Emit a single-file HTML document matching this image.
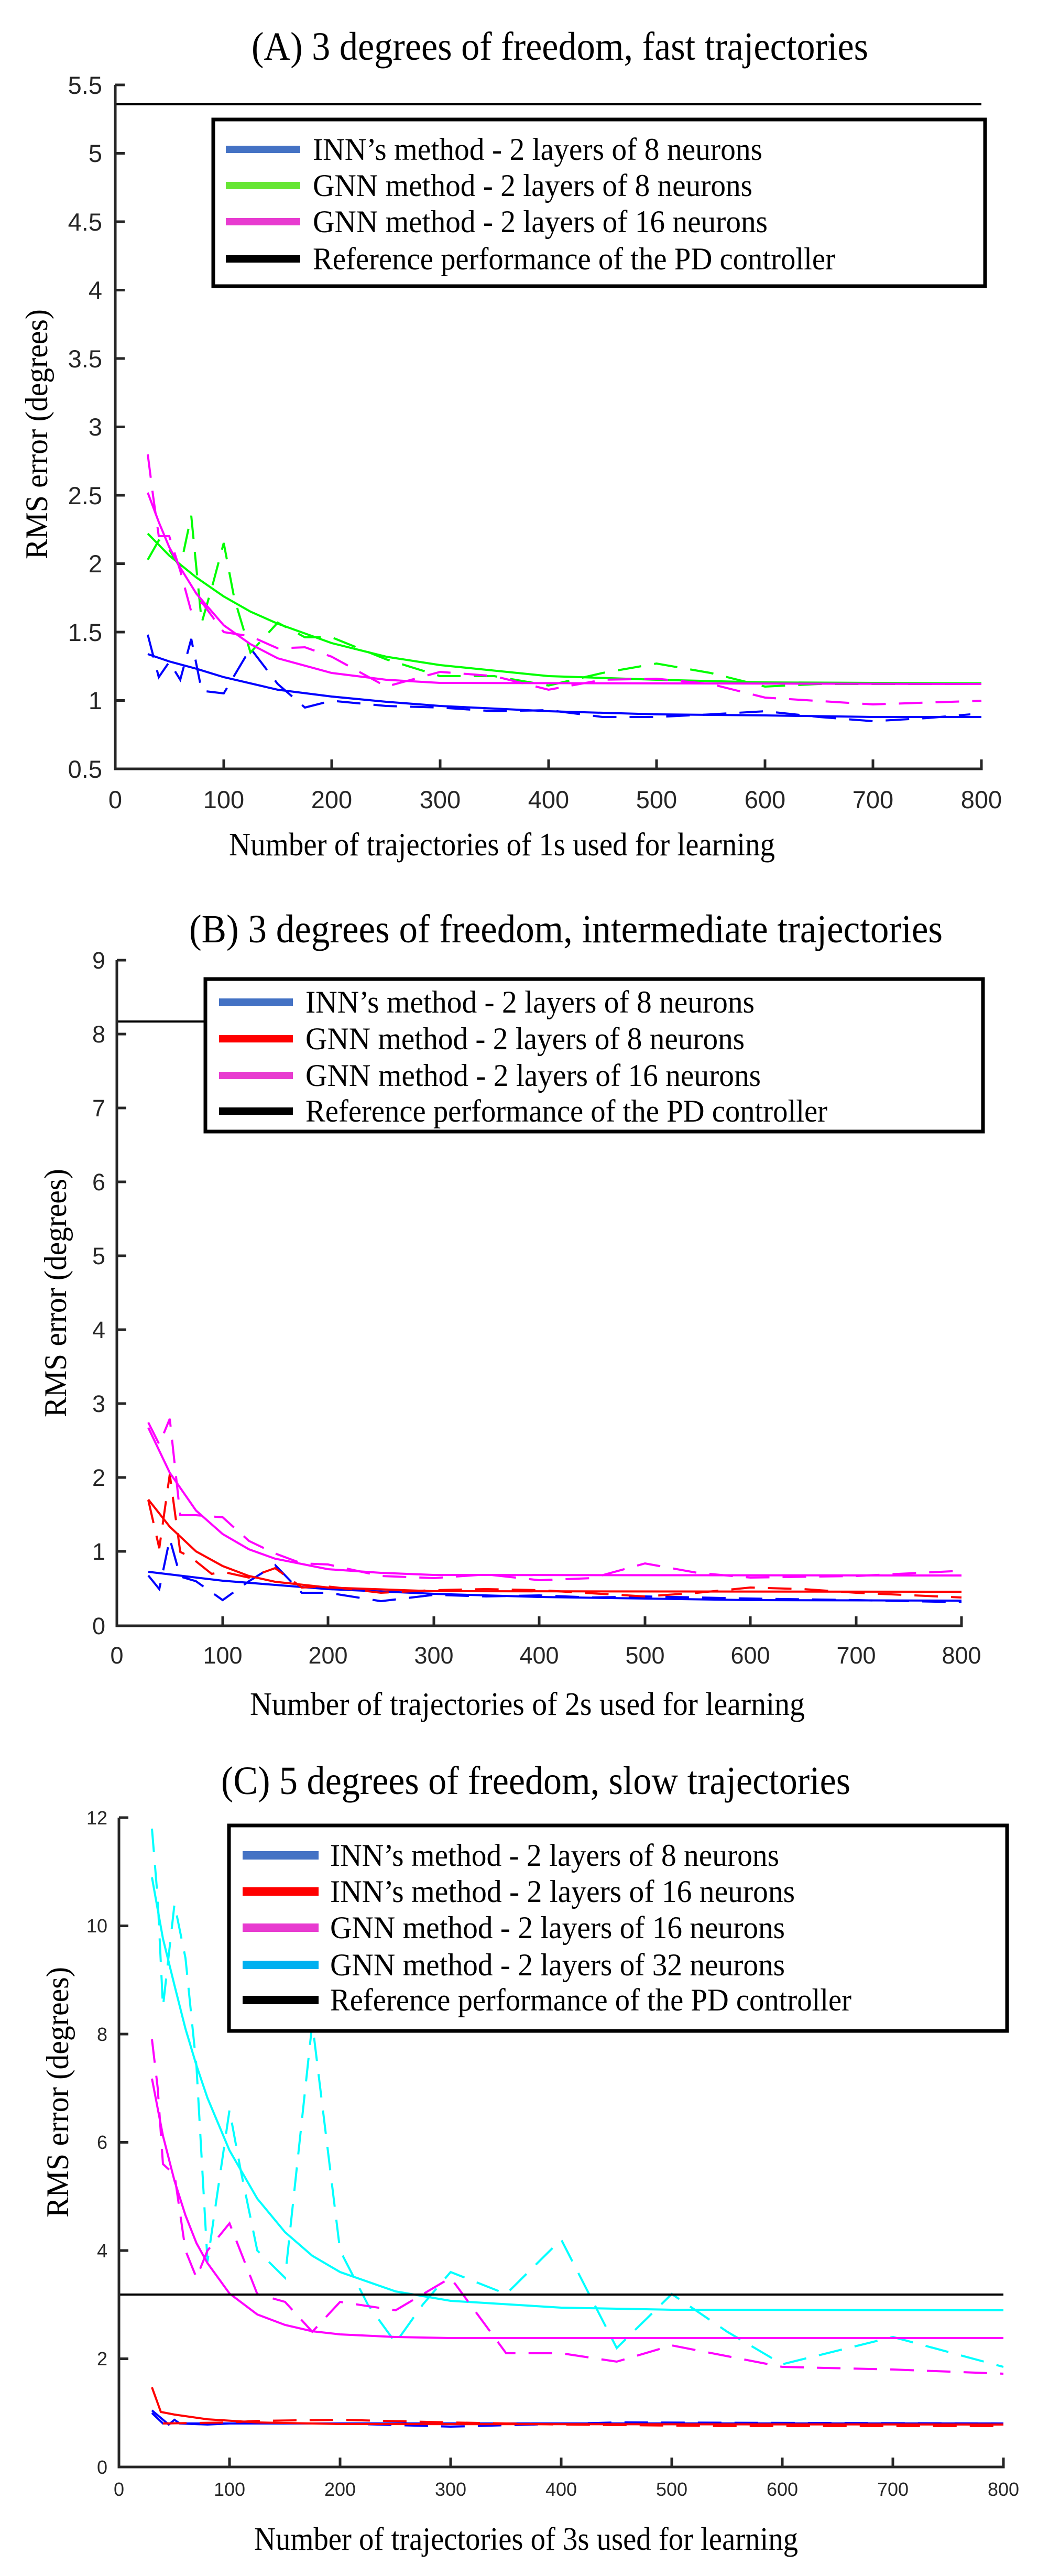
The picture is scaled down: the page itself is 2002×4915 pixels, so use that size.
<!DOCTYPE html>
<html><head><meta charset="utf-8"><style>html,body{margin:0;padding:0;background:#fff}svg{display:block}</style></head>
<body>
<svg xmlns="http://www.w3.org/2000/svg" width="2002" height="4915" viewBox="0 0 2002 4915">
<rect width="2002" height="4915" fill="#fff"/>
<g font-family="Liberation Serif, serif" fill="#000">
<text x="480" y="114" font-size="76" textLength="1177" lengthAdjust="spacingAndGlyphs">(A) 3 degrees of freedom, fast trajectories</text>
<text x="361" y="1798" font-size="76" textLength="1438" lengthAdjust="spacingAndGlyphs">(B) 3 degrees of freedom, intermediate trajectories</text>
<text x="422" y="3423" font-size="76" textLength="1201" lengthAdjust="spacingAndGlyphs">(C) 5 degrees of freedom, slow trajectories</text>
<text x="437" y="1632" font-size="62" textLength="1042" lengthAdjust="spacingAndGlyphs">Number of trajectories of 1s used for learning</text>
<text x="477" y="3272" font-size="62" textLength="1059" lengthAdjust="spacingAndGlyphs">Number of trajectories of 2s used for learning</text>
<text x="485" y="4865" font-size="62" textLength="1038" lengthAdjust="spacingAndGlyphs">Number of trajectories of 3s used for learning</text>
<text transform="translate(90,1067) rotate(-90)" font-size="60" textLength="477" lengthAdjust="spacingAndGlyphs">RMS error (degrees)</text>
<text transform="translate(126,2704) rotate(-90)" font-size="60" textLength="474" lengthAdjust="spacingAndGlyphs">RMS error (degrees)</text>
<text transform="translate(130,4231) rotate(-90)" font-size="60" textLength="478" lengthAdjust="spacingAndGlyphs">RMS error (degrees)</text>
</g>

<!-- Panel A -->
<g fill="none" stroke-width="4">
<polyline stroke="#0000ff" stroke-dasharray="45 25" points="282,1211 303,1292 323,1263 344,1297 365,1219 385,1318 427,1323 478,1237 530,1305 582,1350 633,1337 737,1347 840,1350 943,1357 1047,1355 1150,1368 1253,1368 1356,1363 1460,1357 1563,1368 1666,1376 1770,1370 1852,1363"/>
<polyline stroke="#0000ff" points="282,1248 323,1262 375,1276 427,1292 530,1316 633,1329 737,1339 840,1347 1047,1357 1253,1363 1460,1365 1666,1368 1873,1368"/>
<polyline stroke="#00ff00" stroke-dasharray="45 25" points="282,1068 303,1031 323,1049 344,1083 365,984 385,1188 406,1115 427,1036 447,1141 478,1245 530,1188 582,1216 633,1216 737,1258 840,1290 943,1290 1047,1308 1150,1284 1253,1266 1356,1284 1460,1310 1563,1305 1666,1305 1873,1305"/>
<polyline stroke="#00ff00" points="282,1018 323,1060 375,1102 427,1138 478,1167 530,1190 633,1227 737,1253 840,1269 1047,1290 1253,1297 1460,1302 1873,1304"/>
<polyline stroke="#ff00ff" stroke-dasharray="45 25" points="282,867 292,945 303,1023 323,1023 344,1089 365,1167 385,1149 427,1206 478,1214 530,1237 582,1235 633,1253 737,1310 840,1282 943,1290 1047,1316 1150,1297 1253,1295 1356,1305 1460,1331 1666,1344 1873,1337"/>
<polyline stroke="#ff00ff" points="282,940 303,996 323,1044 344,1083 375,1133 427,1193 478,1229 530,1256 633,1284 737,1297 840,1303 1873,1305"/>
<line x1="220" y1="199" x2="1873" y2="199" stroke="#000" stroke-width="4"/>
</g>
<g stroke="#262626" stroke-width="5" fill="none">
<polyline points="220,162 220,1467 1873,1467 1873,1449"/>
<path d="M220 162h18M220 292.5h18M220 423h18M220 553.5h18M220 684h18M220 814.5h18M220 945h18M220 1075.5h18M220 1206h18M220 1336.5h18M427 1467v-18M633 1467v-18M840 1467v-18M1047 1467v-18M1253 1467v-18M1460 1467v-18M1666 1467v-18"/>
</g>
<g font-family="Liberation Sans, sans-serif" font-size="47" fill="#262626" text-anchor="end">
<text x="195" y="179">5.5</text><text x="195" y="309">5</text><text x="195" y="440">4.5</text><text x="195" y="570">4</text><text x="195" y="701">3.5</text><text x="195" y="831">3</text><text x="195" y="962">2.5</text><text x="195" y="1092">2</text><text x="195" y="1223">1.5</text><text x="195" y="1353">1</text><text x="195" y="1484">0.5</text>
</g>
<g font-family="Liberation Sans, sans-serif" font-size="47" fill="#262626" text-anchor="middle">
<text x="220" y="1542">0</text><text x="427" y="1542">100</text><text x="633" y="1542">200</text><text x="840" y="1542">300</text><text x="1047" y="1542">400</text><text x="1253" y="1542">500</text><text x="1460" y="1542">600</text><text x="1666" y="1542">700</text><text x="1873" y="1542">800</text>
</g>
<rect x="407" y="228" width="1473" height="318" fill="#fff" stroke="#000" stroke-width="7"/>
<g stroke-width="14">
<line x1="431" y1="285" x2="573" y2="285" stroke="#4472c4"/>
<line x1="431" y1="354" x2="573" y2="354" stroke="#66e633"/>
<line x1="431" y1="423" x2="573" y2="423" stroke="#e83bd0"/>
<line x1="431" y1="494" x2="573" y2="494" stroke="#000"/>
</g>
<g font-family="Liberation Serif, serif" font-size="60" fill="#000">
<text x="597" y="305" textLength="858" lengthAdjust="spacingAndGlyphs">INN’s method  - 2 layers of 8 neurons</text>
<text x="597" y="374" textLength="839" lengthAdjust="spacingAndGlyphs">GNN method  - 2 layers of 8 neurons</text>
<text x="597" y="443" textLength="868" lengthAdjust="spacingAndGlyphs">GNN method  - 2 layers of 16 neurons</text>
<text x="597" y="514" textLength="997" lengthAdjust="spacingAndGlyphs">Reference performance of the PD controller</text>
</g>

<!-- Panel B -->
<g fill="none" stroke-width="4">
<line x1="223" y1="1949" x2="400" y2="1949" stroke="#000"/>
<polyline stroke="#0000ff" stroke-dasharray="45 25" points="283,3006 304,3032 324,2936 344,3008 374,3017 425,3053 475,3017 525,2986 576,3039 626,3039 727,3055 828,3043 928,3046 1029,3044 1130,3048 1231,3046 1331,3048 1432,3050 1634,3053 1835,3057"/>
<polyline stroke="#0000ff" points="283,2999 425,3016 626,3032 828,3041 1029,3047 1231,3050 1432,3053 1835,3054"/>
<polyline stroke="#ff0000" stroke-dasharray="45 25" points="283,2862 304,2954 324,2813 344,2961 364,2971 404,3003 425,2999 475,3010 525,2992 576,3029 626,3027 727,3039 828,3034 928,3032 1029,3034 1130,3040 1231,3046 1331,3039 1432,3029 1533,3032 1634,3039 1835,3048"/>
<polyline stroke="#ff0000" points="283,2861 324,2913 374,2960 425,2988 475,3007 525,3018 626,3029 828,3036 1835,3037"/>
<polyline stroke="#ff00ff" stroke-dasharray="45 25" points="283,2714 304,2756 324,2707 344,2891 374,2891 425,2895 475,2940 525,2964 576,2983 626,2985 727,3007 828,3011 928,3004 1029,3015 1130,3011 1231,2983 1331,3001 1432,3010 1634,3007 1835,2997"/>
<polyline stroke="#ff00ff" points="283,2724 324,2810 374,2882 425,2927 475,2956 525,2974 626,2994 727,3001 828,3005 1835,3006"/>
</g>
<g stroke="#262626" stroke-width="5" fill="none">
<polyline points="223,1832 223,3102 1835,3102 1835,3084"/>
<path d="M223 1832h18M223 1973h18M223 2114h18M223 2255h18M223 2396h18M223 2537h18M223 2678h18M223 2819h18M223 2960h18M425 3102v-18M626 3102v-18M828 3102v-18M1029 3102v-18M1231 3102v-18M1432 3102v-18M1634 3102v-18"/>
</g>
<g font-family="Liberation Sans, sans-serif" font-size="45" fill="#262626" text-anchor="end">
<text x="201" y="1848">9</text><text x="201" y="1989">8</text><text x="201" y="2130">7</text><text x="201" y="2271">6</text><text x="201" y="2412">5</text><text x="201" y="2553">4</text><text x="201" y="2694">3</text><text x="201" y="2835">2</text><text x="201" y="2976">1</text><text x="201" y="3118">0</text>
</g>
<g font-family="Liberation Sans, sans-serif" font-size="45" fill="#262626" text-anchor="middle">
<text x="223" y="3174">0</text><text x="425" y="3174">100</text><text x="626" y="3174">200</text><text x="828" y="3174">300</text><text x="1029" y="3174">400</text><text x="1231" y="3174">500</text><text x="1432" y="3174">600</text><text x="1634" y="3174">700</text><text x="1835" y="3174">800</text>
</g>
<rect x="392" y="1868" width="1484" height="291" fill="#fff" stroke="#000" stroke-width="7"/>
<g stroke-width="14">
<line x1="418" y1="1912" x2="559" y2="1912" stroke="#4472c4"/>
<line x1="418" y1="1982" x2="559" y2="1982" stroke="#ff0000"/>
<line x1="418" y1="2052" x2="559" y2="2052" stroke="#e83bd0"/>
<line x1="418" y1="2120" x2="559" y2="2120" stroke="#000"/>
</g>
<g font-family="Liberation Serif, serif" font-size="60" fill="#000">
<text x="583" y="1932" textLength="857" lengthAdjust="spacingAndGlyphs">INN’s method  - 2 layers of 8 neurons</text>
<text x="583" y="2002" textLength="838" lengthAdjust="spacingAndGlyphs">GNN method  - 2 layers of 8 neurons</text>
<text x="583" y="2072" textLength="869" lengthAdjust="spacingAndGlyphs">GNN method  - 2 layers of 16 neurons</text>
<text x="583" y="2140" textLength="996" lengthAdjust="spacingAndGlyphs">Reference performance of the PD controller</text>
</g>

<!-- Panel C -->
<g fill="none" stroke-width="4">
<polyline stroke="#00ffff" stroke-dasharray="45 25" points="290,3489 301,3623 311,3829 333,3633 354,3736 375,3943 396,4315 417,4170 438,4026 459,4139 491,4294 544,4346 596,3860 649,4294 702,4397 755,4470 807,4397 860,4335 966,4377 1071,4273 1177,4480 1282,4377 1388,4449 1493,4511 1704,4459 1915,4516"/>
<polyline stroke="#00ffff" points="290,3582 311,3699 333,3788 354,3871 375,3941 396,4003 438,4103 491,4195 544,4259 596,4304 649,4335 755,4372 860,4390 1071,4403 1282,4407 1915,4408"/>
<polyline stroke="#ff00ff" stroke-dasharray="45 25" points="290,3891 301,3984 311,4129 333,4149 354,4294 375,4346 396,4294 438,4242 491,4377 544,4392 596,4449 649,4392 755,4408 860,4346 966,4490 1071,4490 1177,4506 1282,4475 1493,4516 1704,4521 1915,4529"/>
<polyline stroke="#ff00ff" points="290,3966 311,4075 333,4161 354,4227 375,4280 396,4318 438,4376 491,4416 544,4436 596,4448 649,4454 755,4459 860,4461 1915,4461"/>
<polyline stroke="#0000ff" stroke-dasharray="45 25" points="290,4604 311,4624 396,4624 649,4624 860,4630 1177,4622 1915,4624"/>
<polyline stroke="#0000ff" points="290,4599 322,4626 333,4617 343,4624 396,4626 438,4624 1915,4624"/>
<polyline stroke="#ff0000" stroke-dasharray="45 25" points="311,4624 438,4622 491,4619 649,4617 860,4622 1071,4626 1388,4629 1915,4629"/>
<polyline stroke="#ff0000" points="290,4555 307,4602 333,4607 396,4616 491,4622 649,4625 1915,4626"/>
<line x1="227" y1="4378" x2="1915" y2="4378" stroke="#000"/>
</g>
<g stroke="#262626" stroke-width="5" fill="none">
<polyline points="227,3468 227,4707 1915,4707 1915,4689"/>
<path d="M227 3468h18M227 3674.5h18M227 3881h18M227 4087.5h18M227 4294h18M227 4500.5h18M438 4707v-18M649 4707v-18M860 4707v-18M1071 4707v-18M1282 4707v-18M1493 4707v-18M1704 4707v-18"/>
</g>
<g font-family="Liberation Sans, sans-serif" font-size="36" fill="#262626" text-anchor="end">
<text x="205" y="3481">12</text><text x="205" y="3687">10</text><text x="205" y="3894">8</text><text x="205" y="4100">6</text><text x="205" y="4307">4</text><text x="205" y="4513">2</text><text x="205" y="4720">0</text>
</g>
<g font-family="Liberation Sans, sans-serif" font-size="36" fill="#262626" text-anchor="middle">
<text x="227" y="4762">0</text><text x="438" y="4762">100</text><text x="649" y="4762">200</text><text x="860" y="4762">300</text><text x="1071" y="4762">400</text><text x="1282" y="4762">500</text><text x="1493" y="4762">600</text><text x="1704" y="4762">700</text><text x="1915" y="4762">800</text>
</g>
<rect x="437" y="3483" width="1485" height="392" fill="#fff" stroke="#000" stroke-width="7"/>
<g stroke-width="16">
<line x1="463" y1="3540" x2="608" y2="3540" stroke="#4472c4"/>
<line x1="463" y1="3609" x2="608" y2="3609" stroke="#ff0000"/>
<line x1="463" y1="3678" x2="608" y2="3678" stroke="#e83bd0"/>
<line x1="463" y1="3749" x2="608" y2="3749" stroke="#00b0f0"/>
<line x1="463" y1="3816" x2="608" y2="3816" stroke="#000"/>
</g>
<g font-family="Liberation Serif, serif" font-size="60" fill="#000">
<text x="630" y="3560" textLength="857" lengthAdjust="spacingAndGlyphs">INN’s method  - 2 layers of 8 neurons</text>
<text x="630" y="3629" textLength="887" lengthAdjust="spacingAndGlyphs">INN’s method  - 2 layers of 16 neurons</text>
<text x="630" y="3698" textLength="868" lengthAdjust="spacingAndGlyphs">GNN method  - 2 layers of 16 neurons</text>
<text x="630" y="3769" textLength="868" lengthAdjust="spacingAndGlyphs">GNN method  - 2 layers of 32 neurons</text>
<text x="630" y="3836" textLength="995" lengthAdjust="spacingAndGlyphs">Reference performance of the PD controller</text>
</g>
</svg>
</body></html>
